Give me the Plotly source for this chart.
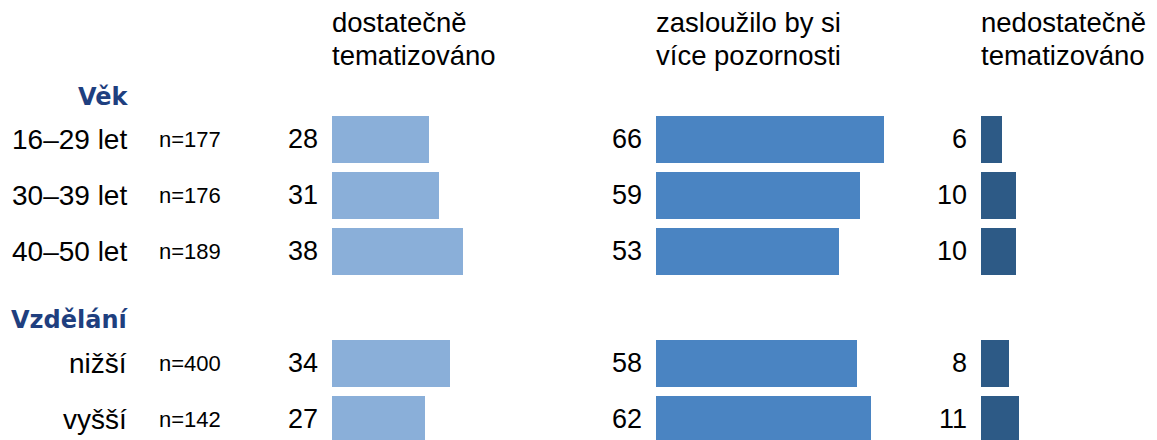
import plotly.graph_objects as go

# ---- data ----
groups = ["16–29 let", "30–39 let", "40–50 let", "nižší", "vyšší"]
n_labels = ["n=177", "n=176", "n=189", "n=400", "n=142"]
row_pos = [0, 1, 2, 4, 5]
sections = ["Věk", "Vzdělání"]
section_pos = [-0.75, 3.23]

col_titles = [["dostatečně", "tematizováno"],
              ["zasloužilo by si", "více pozornosti"],
              ["nedostatečně", "tematizováno"]]
dostatecne = [28, 31, 38, 34, 27]
zaslouzilo = [66, 59, 53, 58, 62]
nedostatecne = [6, 10, 10, 8, 11]
series = [dostatecne, zaslouzilo, nedostatecne]
colors = ["#8AAFD9", "#4A84C2", "#2D5A86"]

# page body has an 8px margin: lay out in target pixels minus 8
OFF = 8
W, H = 1157 - OFF, 440 - OFF
PX_PER_UNIT = 3.46
starts = [332 - OFF, 656 - OFF, 980.7 - OFF]
ends = [640 - OFF, 965 - OFF, W]
ROW0 = 139.3 - OFF
ROWSTEP = 56

FONT = "Liberation Sans, Arial, sans-serif"
TXT = "#000000"
HEAD = "#1F3F7F"

fig = go.Figure()
axes = ["x", "x2", "x3"]
for i, (vals, col) in enumerate(zip(series, colors)):
    fig.add_trace(go.Bar(
        x=vals, y=row_pos, orientation="h", width=0.83,
        marker=dict(color=col, line=dict(width=0)),
        xaxis=axes[i], yaxis="y", showlegend=False, hoverinfo="x+y",
    ))

layout = dict(
    width=W, height=H, margin=dict(l=0, r=0, t=0, b=0),
    paper_bgcolor="white", plot_bgcolor="white",
    bargap=0,
    yaxis=dict(range=[(H - ROW0) / ROWSTEP, -ROW0 / ROWSTEP], visible=False,
               domain=[0, 1], fixedrange=True),
)
for i in range(3):
    key = "xaxis" if i == 0 else f"xaxis{i+1}"
    layout[key] = dict(
        domain=[starts[i] / W, ends[i] / W],
        range=[0, (ends[i] - starts[i]) / PX_PER_UNIT],
        visible=False, anchor="y", fixedrange=True,
    )
fig.update_layout(**layout)

ann = []
# value labels
for i, vals in enumerate(series):
    xr = "x" if i == 0 else f"x{i+1}"
    for v, p in zip(vals, row_pos):
        ann.append(dict(x=0, y=p, xref=xr, yref="y", text=str(v),
                        xanchor="right", yanchor="middle", xshift=-12,
                        showarrow=False, font=dict(family=FONT, size=27, color=TXT)))
# column titles
for i, lines in enumerate(col_titles):
    for j, line in enumerate(lines):
        ypx = 22 + 33.5 * j - OFF
        ann.append(dict(x=starts[i] / W, y=1 - ypx / H, xref="paper", yref="paper",
                        text=line, xanchor="left", yanchor="middle", showarrow=False,
                        xshift=-2,
                        font=dict(family=FONT, size=27.5, color=TXT)))
# row labels and n
for g, n, p in zip(groups, n_labels, row_pos):
    ann.append(dict(x=(129 - OFF) / W, y=p, xref="paper", yref="y", text=g,
                    xanchor="right", yanchor="middle", showarrow=False,
                    font=dict(family=FONT, size=28, color=TXT)))
    ann.append(dict(x=(157 - OFF) / W, y=p, xref="paper", yref="y", text=n,
                    xanchor="left", yanchor="middle", showarrow=False,
                    font=dict(family=FONT, size=22, color=TXT)))
# section headers
for s, p in zip(sections, section_pos):
    ann.append(dict(x=(131 - OFF) / W, y=p, xref="paper", yref="y", text=f"<b>{s}</b>",
                    xanchor="right", yanchor="middle", showarrow=False,
                    font=dict(family="DejaVu Sans, sans-serif", size=24, color=HEAD)))
fig.update_layout(annotations=ann)

fig.write_html("out.html", config={"displayModeBar": False})
